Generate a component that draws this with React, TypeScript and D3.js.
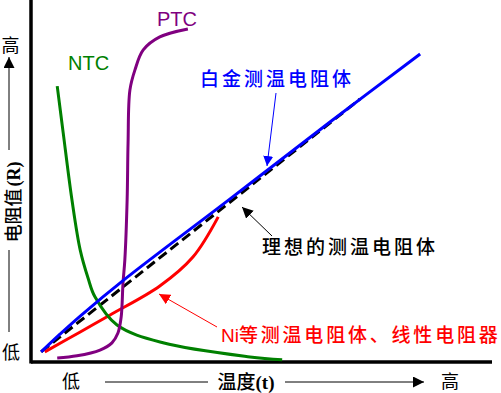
import { FC, useEffect, useRef } from 'react'
import * as d3 from 'd3'

// temperature (0-100) vs resistance (0-100)
const platinum: [number, number][] = [
  [2.2, 2.8], [6.3, 7.7], [10.7, 12.7], [20.4, 22.9], [43.0, 44.8], [65.0, 66.3], [84.6, 85.1]
]
const ideal: [number, number][] = [
  [2.2, 2.8], [71.5, 72.6]
]
const nickel: [number, number][] = [
  [3.0, 2.8], [10.7, 8.3], [17.2, 13.0], [28.0, 21.0], [35.2, 29.0], [40.7, 40.1]
]
const ptc: [number, number][] = [
  [5.7, 1.1], [10.0, 1.7], [15.0, 3.3], [17.6, 5.3], [18.9, 8.0], [19.6, 12.4], [20.0, 21.8],
  [20.4, 28.2], [20.9, 44.8], [21.1, 60.5], [21.5, 75.1], [22.6, 80.7], [24.4, 86.2],
  [28.0, 89.8], [34.1, 92.0]
]
const ntc: [number, number][] = [
  [5.7, 76.2], [7.0, 63.3], [8.9, 44.8], [10.7, 30.9], [12.4, 23.2], [13.9, 18.0],
  [18.7, 10.2], [28.7, 5.3], [47.6, 1.4], [54.6, 0.6]
]

const width = 501
const height = 393
const cjk = '"Noto Sans CJK SC", sans-serif'
const serif = '"Liberation Serif", "Noto Sans CJK SC", serif'

export const App: FC = () => {
  const svgRef = useRef<SVGSVGElement>(null)

  useEffect(() => {
    if (!svgRef.current) return
    document.body.style.margin = '0'
    const svg = d3.select(svgRef.current)
    svg.selectAll('*').remove()

    const x = d3.scaleLinear().domain([0, 100]).range([31, 491])
    const y = d3.scaleLinear().domain([0, 100]).range([362, 0])

    const defs = svg.append('defs')
    const marker = (id: string, color: string, size: number) => {
      defs.append('marker')
        .attr('id', id)
        .attr('viewBox', '0 0 10 10')
        .attr('refX', 10).attr('refY', 5)
        .attr('markerWidth', size).attr('markerHeight', size)
        .attr('markerUnits', 'userSpaceOnUse')
        .attr('orient', 'auto')
        .append('path')
        .attr('d', 'M0,0L10,5L0,10Z')
        .attr('fill', color)
    }
    marker('ab', '#0000ff', 10)
    marker('ak', '#000', 11)
    marker('ar', '#ff0000', 11)
    marker('axis', '#000', 11)

    // axes
    svg.append('line')
      .attr('x1', x(0)).attr('x2', x(0)).attr('y1', y(100)).attr('y2', y(0) + 1.5)
      .attr('stroke', '#000').attr('stroke-width', 3.5)
    svg.append('line')
      .attr('x1', x(0)).attr('x2', x(100) + 1).attr('y1', y(0)).attr('y2', y(0))
      .attr('stroke', '#000').attr('stroke-width', 3.5)

    const line = d3.line<[number, number]>()
      .x(d => x(d[0]))
      .y(d => y(d[1]))
      .curve(d3.curveCatmullRom.alpha(0.5))

    const draw = (data: [number, number][], color: string, dash?: string) => {
      svg.append('path')
        .attr('d', line(data))
        .attr('fill', 'none')
        .attr('stroke', color)
        .attr('stroke-width', 3)
        .attr('stroke-dasharray', dash || null)
    }
    draw(ideal, '#000', '10,5')
    draw(nickel, '#ff0000')
    draw(ntc, '#008000')
    draw(ptc, '#800080')
    draw(platinum, '#0000ff')

    // curve names
    svg.append('text').text('PTC')
      .attr('x', 157).attr('y', 26)
      .attr('font-family', '"Liberation Sans", Arial, sans-serif').attr('font-size', 20)
      .attr('fill', '#800080')
    svg.append('text').text('NTC')
      .attr('x', 68).attr('y', 70)
      .attr('font-family', '"Liberation Sans", Arial, sans-serif').attr('font-size', 20)
      .attr('fill', '#008000')

    const note = (t: string, tx: number, ty: number, color: string) =>
      svg.append('text').text(t)
        .attr('x', tx).attr('y', ty)
        .attr('font-family', cjk).attr('font-size', 19).attr('font-weight', 500)
        .attr('letter-spacing', 3)
        .attr('fill', color)

    note('白金测温电阻体', 200, 86, '#0000ff')
    svg.append('line')
      .attr('x1', 276).attr('y1', 93).attr('x2', 267).attr('y2', 166)
      .attr('stroke', '#0000ff').attr('stroke-width', 1)
      .attr('marker-end', 'url(#ab)')

    note('理想的测温电阻体', 262, 254, '#000')
    svg.append('line')
      .attr('x1', 272).attr('y1', 236).attr('x2', 242).attr('y2', 207)
      .attr('stroke', '#000').attr('stroke-width', 1)
      .attr('marker-end', 'url(#ak)')

    const ni = svg.append('text')
      .attr('x', 221).attr('y', 342)
      .attr('font-size', 19).attr('font-weight', 500)
      .attr('fill', '#ff0000')
    ni.append('tspan').text('Ni').attr('font-family', '"Liberation Sans", Arial, sans-serif')
    ni.append('tspan').text('等测温电阻体、线性电阻器')
      .attr('font-family', cjk).attr('letter-spacing', 2.8)
    svg.append('line')
      .attr('x1', 217).attr('y1', 327).attr('x2', 159).attr('y2', 294)
      .attr('stroke', '#ff0000').attr('stroke-width', 1)
      .attr('marker-end', 'url(#ar)')

    // y axis title
    const lab = (t: string, tx: number, ty: number) =>
      svg.append('text').text(t)
        .attr('x', tx).attr('y', ty)
        .attr('text-anchor', 'middle')
        .attr('font-family', cjk).attr('font-size', 18)
        .attr('fill', '#000')
    lab('高', 10.5, 52)
    lab('低', 11, 359)
    svg.append('line')
      .attr('x1', 9).attr('x2', 9).attr('y1', 150).attr('y2', 57)
      .attr('stroke', '#000').attr('stroke-width', 1)
      .attr('marker-end', 'url(#axis)')
    svg.append('line')
      .attr('x1', 9).attr('x2', 9).attr('y1', 250).attr('y2', 332)
      .attr('stroke', '#000').attr('stroke-width', 1)
    const yt = svg.append('text')
      .attr('transform', 'translate(19.5,202) rotate(-90)')
      .attr('text-anchor', 'middle')
      .attr('font-size', 18).attr('font-weight', 'bold')
    yt.append('tspan').text('电阻值').attr('font-family', cjk).attr('font-weight', 500)
    yt.append('tspan').text('(R)').attr('font-family', serif).attr('dx', 2)

    // x axis title
    lab('低', 71, 388)
    lab('高', 450, 388)
    svg.append('line')
      .attr('x1', 105).attr('x2', 208).attr('y1', 382).attr('y2', 382)
      .attr('stroke', '#000').attr('stroke-width', 1)
    svg.append('line')
      .attr('x1', 285).attr('x2', 424).attr('y1', 382).attr('y2', 382)
      .attr('stroke', '#000').attr('stroke-width', 1)
      .attr('marker-end', 'url(#axis)')
    const xt = svg.append('text')
      .attr('x', 246).attr('y', 389)
      .attr('text-anchor', 'middle')
      .attr('font-size', 19).attr('font-weight', 'bold')
    xt.append('tspan').text('温度').attr('font-family', cjk).attr('font-weight', 500)
    xt.append('tspan').text('(t)').attr('font-family', serif)
  }, [])

  return (
    <svg ref={svgRef} width={width} height={height}
      style={{ display: 'block', background: '#fff' }} />
  )
}

export default App
